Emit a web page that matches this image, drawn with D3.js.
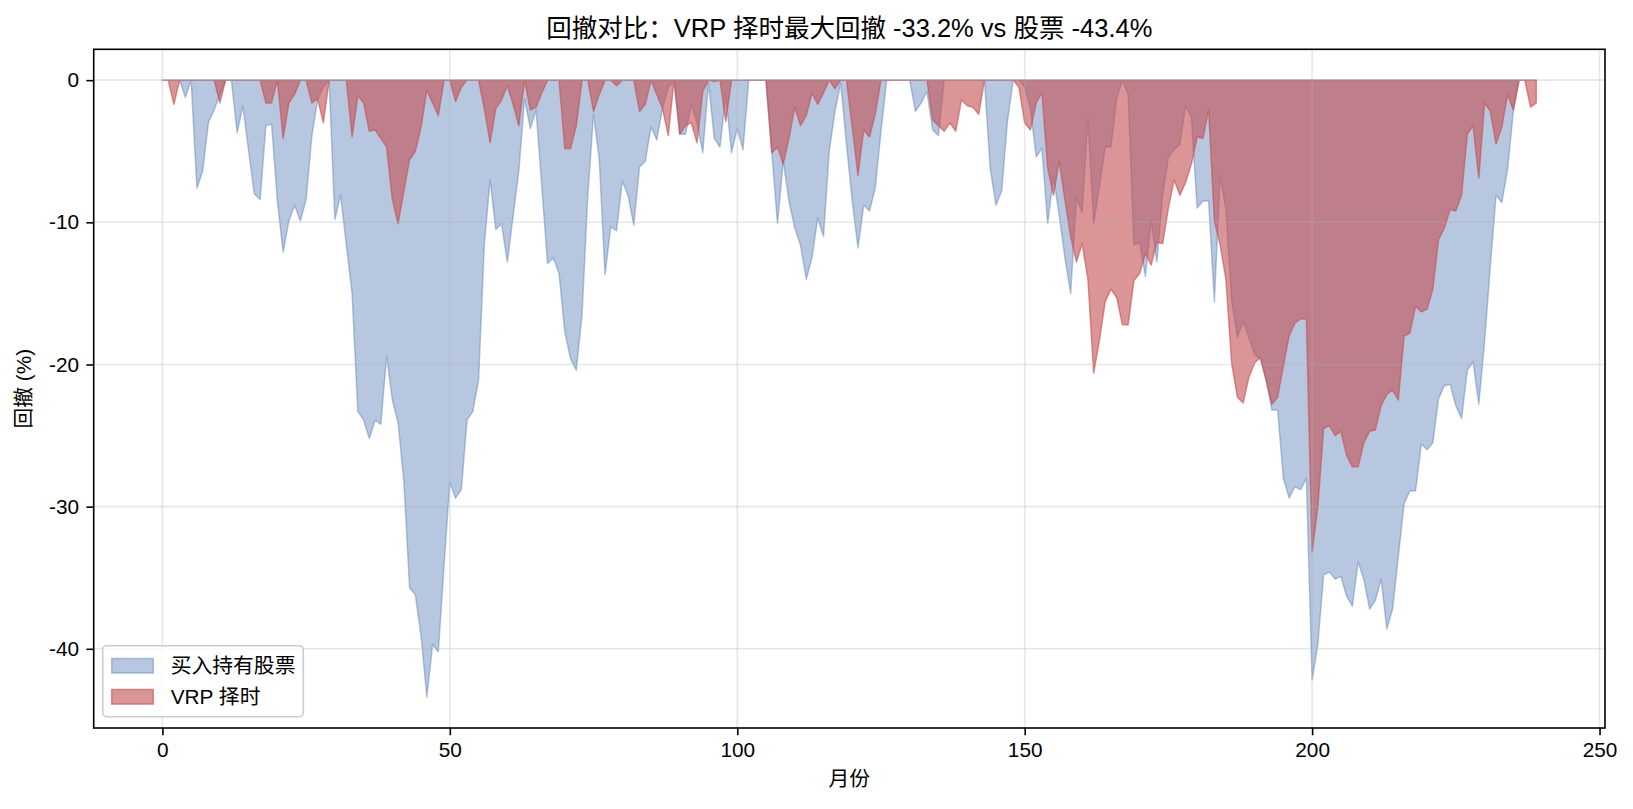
<!DOCTYPE html>
<html lang="zh">
<head>
<meta charset="UTF-8">
<title>回撤对比</title>
<script src="https://cdn.jsdelivr.net/npm/d3@7"></script>
<style>
  body { margin: 0; background: #fff; }
  text { font-family: "Liberation Sans", Arial, "Noto Sans CJK SC", sans-serif; }
</style>
</head>
<body>
<svg id="mainsvg" width="1633" height="809"></svg>
<script>
// drawdown per month, in %
const stockDD = [
  0, 0, 0, 0, -1.2, 0, -7.6, -6.4, -3.0, -2.1,
  -1.0, 0, 0, -3.7, -1.8, -5.0, -8.0, -8.4, -3.2, -3.1,
  -8.5, -12.1, -9.9, -8.8, -9.9, -8.4, -3.9, -1.4, -0.5, 0,
  -9.8, -8.1, -11.6, -15.0, -23.3, -23.9, -25.2, -23.9, -24.2, -19.4,
  -22.5, -24.1, -28.2, -35.7, -36.2, -39.1, -43.4, -39.7, -40.2, -34.1,
  -28.3, -29.4, -28.8, -23.9, -23.3, -21.1, -11.6, -7.0, -10.5, -10.1,
  -12.8, -9.6, -6.4, -1.3, -3.4, -2.1, -7.5, -12.9, -12.5, -13.6,
  -17.7, -19.6, -20.4, -16.5, -8.1, -2.4, -5.6, -13.7, -10.3, -10.6,
  -7.1, -8.1, -10.2, -6.1, -5.7, -3.3, -4.2, -2.0, -0.5, 0,
  -3.8, -3.8, -1.7, -3.0, -5.1, -0.2, -4.1, -4.7, -1.0, -5.1,
  -3.4, -4.9, 0, 0, 0, 0, -5.0, -10.1, -5.7, -8.5,
  -10.4, -11.6, -14.0, -12.5, -9.7, -11.0, -5.0, -2.2, -0.2, -4.5,
  -8.5, -11.8, -8.8, -9.2, -7.6, -3.6, 0, 0, 0, 0,
  0, -2.2, -1.6, -0.8, -3.5, -3.9, 0, 0, 0, 0,
  0, 0, 0, 0, -6.2, -8.8, -7.8, -2.9, 0, 0,
  -0.5, -2.0, -5.4, -4.8, -10.1, -6.8, -9.5, -12.5, -15.0, -8.3,
  -9.3, -2.7, -10.1, -7.5, -4.7, -4.7, -1.3, 0, -1.0, -11.6,
  -11.4, -13.8, -9.9, -12.8, -8.1, -5.4, -4.9, -4.5, -1.8, -2.6,
  -9.0, -8.5, -8.5, -15.6, -6.7, -9.1, -15.5, -18.1, -17.0, -18.1,
  -19.3, -19.6, -21.1, -23.2, -23.2, -28.0, -29.4, -28.6, -28.8, -28.0,
  -42.2, -39.7, -34.8, -34.6, -35.1, -34.9, -36.3, -37.0, -33.9, -35.1,
  -37.2, -36.6, -35.1, -38.6, -37.2, -33.5, -29.8, -28.9, -28.9, -25.6,
  -26.0, -25.5, -22.4, -21.5, -21.4, -22.9, -23.8, -20.4, -19.8, -22.8,
  -18.4, -13.1, -8.1, -8.6, -6.3, -2.2, 0, 0, 0, 0
];

const vrpDD = [
  0, 0, -1.7, 0, 0, 0, 0, 0, 0, 0,
  -1.6, 0, 0, 0, 0, 0, 0, 0, -1.6, -1.6,
  0, -4.1, -1.6, -1.0, 0, 0, -1.6, -1.3, -3.0, 0,
  0, 0, 0, -4.0, -1.1, -1.6, -3.6, -3.5, -4.1, -4.7,
  -8.4, -10.1, -7.8, -5.6, -5.0, -3.3, -0.7, -1.6, -2.5, 0,
  0, -1.5, -0.5, 0, 0, 0, -2.0, -4.4, -2.0, -1.4,
  -0.4, -1.7, -3.2, 0, -2.1, -1.9, -0.9, 0, 0, 0,
  -4.8, -4.8, -3.2, 0, 0, -2.2, -1.0, 0, 0, -0.4,
  0, 0, 0, -2.2, -1.7, 0, -1.0, -2.0, -3.9, 0,
  -3.8, -3.2, -3.0, -4.4, -0.8, 0, -0.1, 0, -2.9, 0,
  0, 0, 0, 0, 0, 0, -5.1, -4.7, -5.9, -4.1,
  -1.9, -3.2, -2.5, -0.9, -1.7, -0.9, 0, -0.6, 0, 0,
  -3.3, -6.7, -3.5, -4.0, -2.4, 0, 0, 0, 0, 0,
  0, 0, 0, 0, -2.8, -3.2, -3.6, -3.0, -3.6, -1.4,
  -1.8, -1.9, -2.4, 0, 0, 0, 0, 0, 0, -0.5,
  -3.0, -3.5, -1.6, -0.9, -6.2, -8.1, -5.7, -8.4, -11.0, -12.8,
  -11.5, -14.0, -20.6, -18.3, -15.6, -14.7, -15.3, -17.2, -17.2, -14.1,
  -13.6, -12.2, -13.0, -11.4, -11.5, -9.0, -7.0, -8.1, -7.2, -5.9,
  -4.0, -4.1, -2.1, -9.9, -11.6, -14.0, -19.9, -22.3, -22.7, -20.9,
  -19.9, -19.5, -21.1, -22.8, -22.3, -20.1, -18.0, -17.1, -16.8, -16.8,
  -33.2, -30.0, -24.5, -24.3, -25.0, -24.7, -26.4, -27.2, -27.2, -25.5,
  -24.7, -24.6, -22.9, -22.1, -21.8, -22.5, -18.0, -17.8, -15.9, -16.3,
  -16.1, -14.7, -11.2, -10.4, -9.1, -9.2, -8.1, -3.8, -3.2, -6.9,
  -1.6, -2.2, -4.5, -3.3, -1.0, -2.1, 0, 0, -1.9, -1.6
];

const xTicks = [0, 50, 100, 150, 200, 250];
const yTicks = [0, -10, -20, -30, -40];
const seriesNames = ["买入持有股票", "VRP 择时"];
const seriesColors = ["#4C72B0", "#C44E52"];
const seriesAlpha = [0.4, 0.6];

const svg = d3.select("#mainsvg");
const plot = {left: 93.7, right: 1605, top: 49.3, bottom: 728};
const fs = 20.8;

const n = stockDD.length;
const pad = (n - 1) * 0.05;
const x = d3.scaleLinear().domain([-pad, n - 1 + pad]).range([plot.left, plot.right]);
const yMin = d3.min(stockDD.concat(vrpDD));
const ypad = -yMin * 0.05;
const y = d3.scaleLinear().domain([yMin - ypad, ypad]).range([plot.bottom, plot.top]);

const area = d3.area()
  .x((d, i) => x(i))
  .y0(y(0))
  .y1(d => y(d));

[stockDD, vrpDD].forEach((s, k) => {
  svg.append("path")
    .attr("d", area(s))
    .attr("fill", seriesColors[k])
    .attr("fill-opacity", seriesAlpha[k])
    .attr("stroke", seriesColors[k])
    .attr("stroke-opacity", seriesAlpha[k])
    .attr("stroke-width", 1.5)
    .attr("stroke-linejoin", "round");
});

// grid on top of the fills, like matplotlib
const grid = svg.append("g").attr("stroke", "#b0b0b0").attr("stroke-opacity", 0.3).attr("stroke-width", 1.6);
grid.selectAll(".gx").data(xTicks).join("line").attr("class", "gx")
  .attr("x1", d => x(d)).attr("x2", d => x(d)).attr("y1", plot.top).attr("y2", plot.bottom);
grid.selectAll(".gy").data(yTicks).join("line").attr("class", "gy")
  .attr("x1", plot.left).attr("x2", plot.right).attr("y1", d => y(d)).attr("y2", d => y(d));

const xAxis = svg.append("g")
  .attr("transform", `translate(0,${plot.bottom})`)
  .call(d3.axisBottom(x).tickValues(xTicks).tickFormat(d => String(d)).tickSize(7.3).tickPadding(7.3));
const yAxis = svg.append("g")
  .attr("transform", `translate(${plot.left},0)`)
  .call(d3.axisLeft(y).tickValues(yTicks).tickFormat(d => String(d)).tickSize(7.3).tickPadding(7.3));
[xAxis, yAxis].forEach(a => {
  a.select(".domain").remove();
  a.selectAll("line").attr("stroke", "#000").attr("stroke-width", 1.6);
  a.selectAll("text").attr("fill", "#000").style("font-size", fs + "px")
    .style("font-family", '"Liberation Sans", Arial, sans-serif');
});

svg.append("rect")
  .attr("x", plot.left).attr("y", plot.top)
  .attr("width", plot.right - plot.left).attr("height", plot.bottom - plot.top)
  .attr("fill", "none").attr("stroke", "#000").attr("stroke-width", 1.6);

svg.append("text")
  .attr("x", (plot.left + plot.right) / 2).attr("y", 37)
  .attr("text-anchor", "middle")
  .style("font-size", "25.5px")
  .text("回撤对比：VRP 择时最大回撤 -33.2% vs 股票 -43.4%");

svg.append("text")
  .attr("x", (plot.left + plot.right) / 2).attr("y", 785.5)
  .attr("text-anchor", "middle")
  .style("font-size", fs + "px")
  .text("月份");

svg.append("text")
  .attr("transform", `translate(31,${(plot.top + plot.bottom) / 2}) rotate(-90)`)
  .attr("text-anchor", "middle")
  .style("font-size", fs + "px")
  .text("回撤 (%)");

// legend
const lg = svg.append("g");
lg.append("rect")
  .attr("x", 102.7).attr("y", 645.7).attr("width", 200.6).attr("height", 71)
  .attr("rx", 4)
  .attr("fill", "#fff").attr("fill-opacity", 0.8)
  .attr("stroke", "#cccccc").attr("stroke-width", 1.6);
seriesNames.forEach((name, k) => {
  const cy = 665.8 + k * 31;
  lg.append("rect")
    .attr("x", 111.7).attr("y", cy - 7.3).attr("width", 41.6).attr("height", 14.6)
    .attr("fill", seriesColors[k]).attr("fill-opacity", seriesAlpha[k])
    .attr("stroke", seriesColors[k]).attr("stroke-opacity", seriesAlpha[k])
    .attr("stroke-width", 1.5);
  lg.append("text")
    .attr("x", 170.7).attr("y", cy).attr("dy", "0.35em")
    .style("font-size", fs + "px")
    .text(name);
});
</script>
</body>
</html>
